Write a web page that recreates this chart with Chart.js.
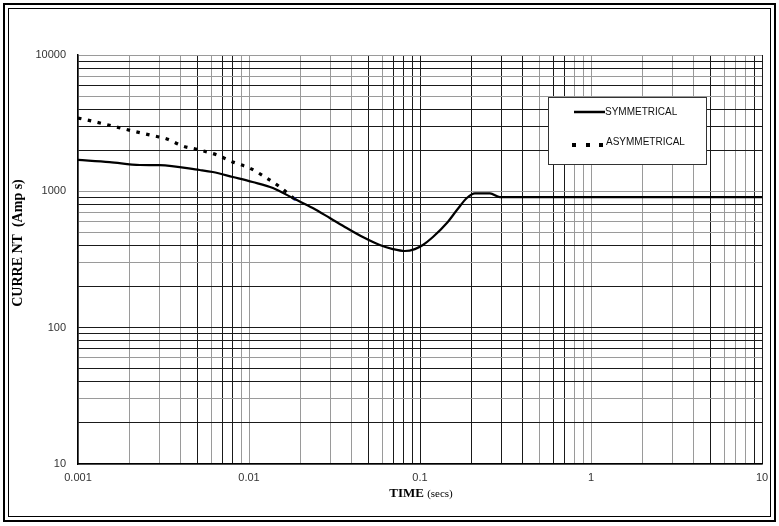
<!DOCTYPE html>
<html>
<head>
<meta charset="utf-8">
<script src="https://cdn.jsdelivr.net/npm/chart.js@4.4.1/dist/chart.umd.min.js"></script>
<style>
  body { margin: 0; background: #fff; }
  canvas { display: block; }
</style>
</head>
<body>
<canvas id="myChart" width="779" height="526"></canvas>
<script>
// Symmetrical current vs time
var symTime = [0.001, 0.00153, 0.0023, 0.003, 0.00515, 0.00614, 0.00804, 0.0105, 0.0138, 0.0185,
  0.0236, 0.0297, 0.0373, 0.0463, 0.0582, 0.0694, 0.0815, 0.0933, 0.104, 0.119,
  0.1436, 0.1644, 0.188, 0.2095, 0.2565, 0.2935, 0.5, 1, 3, 10];
var symCurrent = [1700, 1640, 1560, 1555, 1433, 1386, 1274, 1170, 1057, 878,
  754, 637, 538, 462, 404, 377, 365, 377, 404, 462,
  585, 729, 893, 967, 967, 908, 908, 908, 908, 908];

// Asymmetrical current (dotted), merges with symmetrical near 0.0185 s
var asymTime = [0.001, 0.0012, 0.0016, 0.00209, 0.00263, 0.00331, 0.0041, 0.00515, 0.00648, 0.00804,
  0.0101, 0.0127, 0.0151, 0.0185];
var asymCurrent = [3450, 3280, 3010, 2770, 2590, 2420, 2150, 2010, 1850, 1640,
  1480, 1250, 1080, 878];

var xTickValues = [0.001, 0.01, 0.1, 1, 10];
var xTickLabels = ['0.001', '0.01', '0.1', '1', '10'];
var yTickValues = [10, 100, 1000, 10000];
var yTickLabels = ['10', '100', '1000', '10000'];

// gridlines that print darker on the scanned graph paper
var xDark = [0.005, 0.007, 0.008, 0.05, 0.07, 0.08, 0.09, 0.1, 0.2, 0.3, 0.4, 0.6, 0.7, 5, 9, 10];
var yDark = [9000, 8000, 6000, 4000, 3000, 2000, 900, 800, 400, 200, 100, 90, 80, 70, 50, 40, 20];

function pairs(xs, ys) {
  return xs.map(function(x, i) { return {x: x, y: ys[i]}; });
}
function same(a, b) { return Math.abs(Math.log10(a) - Math.log10(b)) < 1e-6; }
function labelFor(v, vals, labels) {
  for (var i = 0; i < vals.length; i++) if (same(v, vals[i])) return labels[i];
  return '';
}
function isIn(v, list) { return list.some(function(d) { return same(v, d); }); }
function logTicks(min, max) {
  var out = [];
  for (var e = Math.round(Math.log10(min)); e < Math.round(Math.log10(max)); e++) {
    for (var s = 1; s <= 9; s++) out.push({value: +(s * Math.pow(10, e)).toPrecision(6)});
  }
  out.push({value: max});
  return out;
}

var framePlugin = {
  id: 'frame',
  beforeDraw: function(chart) {
    var c = chart.ctx;
    c.save();
    c.fillStyle = '#fff';
    c.fillRect(0, 0, chart.width, chart.height);
    c.strokeStyle = '#000';
    c.lineWidth = 2;
    c.strokeRect(4, 4, 771, 517);
    c.lineWidth = 1;
    c.strokeRect(8.5, 8.5, 762, 508);
    c.restore();
  }
};

var extrasPlugin = {
  id: 'extras',
  afterDraw: function(chart) {
    var c = chart.ctx;
    var ds = chart.data.datasets;
    c.save();
    // legend box
    c.fillStyle = '#fff';
    c.fillRect(548, 97, 158, 67);
    c.strokeStyle = '#333';
    c.lineWidth = 1;
    c.strokeRect(548.5, 97.5, 158, 67);
    c.font = '10px "Liberation Sans", Arial, sans-serif';
    c.fillStyle = '#111';
    c.textBaseline = 'middle';
    // symmetrical sample
    c.strokeStyle = '#000';
    c.lineWidth = 2.5;
    c.beginPath(); c.moveTo(574, 112); c.lineTo(605, 112); c.stroke();
    c.fillText(ds[0].label, 605, 112);
    // asymmetrical sample
    c.fillStyle = '#000';
    [574, 588, 601].forEach(function(x) { c.fillRect(x - 2, 143, 4, 4); });
    c.fillStyle = '#111';
    c.fillText(ds[1].label, 606, 142);

    // axis titles
    c.fillStyle = '#000';
    c.textBaseline = 'alphabetic';
    c.textAlign = 'left';
    c.font = 'bold 13px "Liberation Serif", "Times New Roman", serif';
    var w1 = c.measureText('TIME ').width;
    c.font = '11px "Liberation Serif", "Times New Roman", serif';
    var w2 = c.measureText('(secs)').width;
    var x0 = 421 - (w1 + w2) / 2;
    c.font = 'bold 13px "Liberation Serif", "Times New Roman", serif';
    c.fillText('TIME ', x0, 497);
    c.font = '11px "Liberation Serif", "Times New Roman", serif';
    c.fillText('(secs)', x0 + w1, 497);

    c.translate(18, 243);
    c.rotate(-Math.PI / 2);
    c.textAlign = 'center';
    c.textBaseline = 'middle';
    c.font = 'bold 14px "Liberation Serif", "Times New Roman", serif';
    c.fillText('CURRE NT  (Amp s)', 0, 0);
    c.restore();
  }
};

var ctx = document.getElementById('myChart').getContext('2d');
var myChart = new Chart(ctx, {
  type: 'line',
  data: {
    datasets: [{
      label: 'SYMMETRICAL',
      data: pairs(symTime, symCurrent),
      borderColor: '#000',
      borderWidth: 2.2,
      pointRadius: 0,
      cubicInterpolationMode: 'monotone',
      fill: false
    }, {
      label: 'ASYMMETRICAL',
      data: pairs(asymTime, asymCurrent),
      borderColor: '#000',
      borderWidth: 3.2,
      borderDash: [3.5, 6.5],
      pointRadius: function(c) { return c.dataIndex === asymTime.length - 1 ? 1.8 : 0; },
      pointBackgroundColor: '#2030d0',
      pointBorderWidth: 0,
      cubicInterpolationMode: 'monotone',
      fill: false
    }]
  },
  options: {
    responsive: false,
    animation: false,
    layout: { padding: { top: 55, right: 17, left: 0, bottom: 0 } },
    plugins: { legend: { display: false }, tooltip: { enabled: false } },
    scales: {
      x: {
        type: 'logarithmic',
        min: 0.001,
        max: 10,
        afterBuildTicks: function(scale) { scale.ticks = logTicks(0.001, 10); },
        afterFit: function(scale) { scale.height = 62; },
        ticks: {
          autoSkip: false,
          maxRotation: 0,
          padding: 7,
          color: '#333',
          font: { family: '"Liberation Sans", Arial, sans-serif', size: 11 },
          callback: function(v) { return labelFor(v, xTickValues, xTickLabels); }
        },
        grid: {
          drawTicks: false,
          lineWidth: 1,
          color: function(c) { return c.tick && isIn(c.tick.value, xDark) ? '#1a1a1a' : '#9a9a9a'; }
        },
        border: { color: '#000', width: 1.5 }
      },
      y: {
        type: 'logarithmic',
        min: 10,
        max: 10000,
        afterBuildTicks: function(scale) { scale.ticks = logTicks(10, 10000); },
        afterFit: function(scale) { scale.width = 78; },
        ticks: {
          autoSkip: false,
          padding: 12,
          color: '#333',
          font: { family: '"Liberation Sans", Arial, sans-serif', size: 11 },
          callback: function(v) { return labelFor(v, yTickValues, yTickLabels); }
        },
        grid: {
          drawTicks: false,
          lineWidth: 1,
          color: function(c) { return c.tick && isIn(c.tick.value, yDark) ? '#1a1a1a' : '#9a9a9a'; }
        },
        border: { color: '#000', width: 1.5 }
      }
    }
  },
  plugins: [framePlugin, extrasPlugin]
});
</script>
</body>
</html>
